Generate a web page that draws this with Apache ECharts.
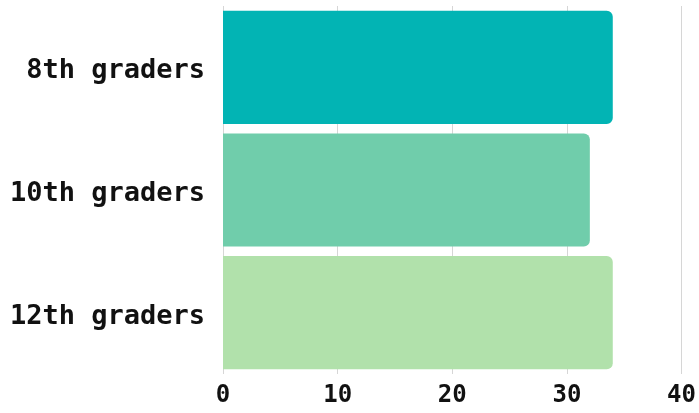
<!DOCTYPE html>
<html>
<head>
<meta charset="utf-8">
<script src="https://cdn.jsdelivr.net/npm/echarts@6/dist/echarts.min.js"></script>
<style>html,body{margin:0;padding:0;background:#fff;}#c{width:699px;height:413px;}</style>
</head>
<body>
<div id="c"></div>
<script>
var categories = ["8th graders", "10th graders", "12th graders"];
var values = [34, 32, 34];
var colors = ["#02b4b4", "#70cdab", "#b1e1ab"];
var xTicks = [0, 10, 20, 30, 40];

var chart = echarts.init(document.getElementById('c'));
chart.setOption({
  animation: false,
  grid: {left: 223, right: 15, top: 6, bottom: 39, containLabel: false},
  xAxis: {
    type: 'value', min: 0, max: 40, interval: 10,
    axisLine: {show: false}, axisTick: {show: false},
    splitLine: {show: true, lineStyle: {color: '#d6d6d6', width: 1}},
    axisLabel: {
      margin: 10, color: '#111', fontFamily: 'DejaVu Sans Mono', fontWeight: 'bold', fontSize: 24,
      formatter: function (v) { return xTicks.indexOf(v) >= 0 ? String(v) : ''; }
    }
  },
  yAxis: {
    type: 'category', data: categories, inverse: true,
    axisLine: {show: false}, axisTick: {show: false}, splitLine: {show: false},
    axisLabel: {margin: 18, verticalAlign: 'top', lineHeight: 8, color: '#111', fontFamily: 'DejaVu Sans Mono', fontWeight: 'bold', fontSize: 27}
  },
  series: [{
    type: 'bar',
    barCategoryGap: '7.7%',
    data: values.map(function (v, i) {
      return {value: v, itemStyle: {color: colors[i], borderRadius: [0, 6, 6, 0]}};
    })
  }]
});
</script>
</body>
</html>
